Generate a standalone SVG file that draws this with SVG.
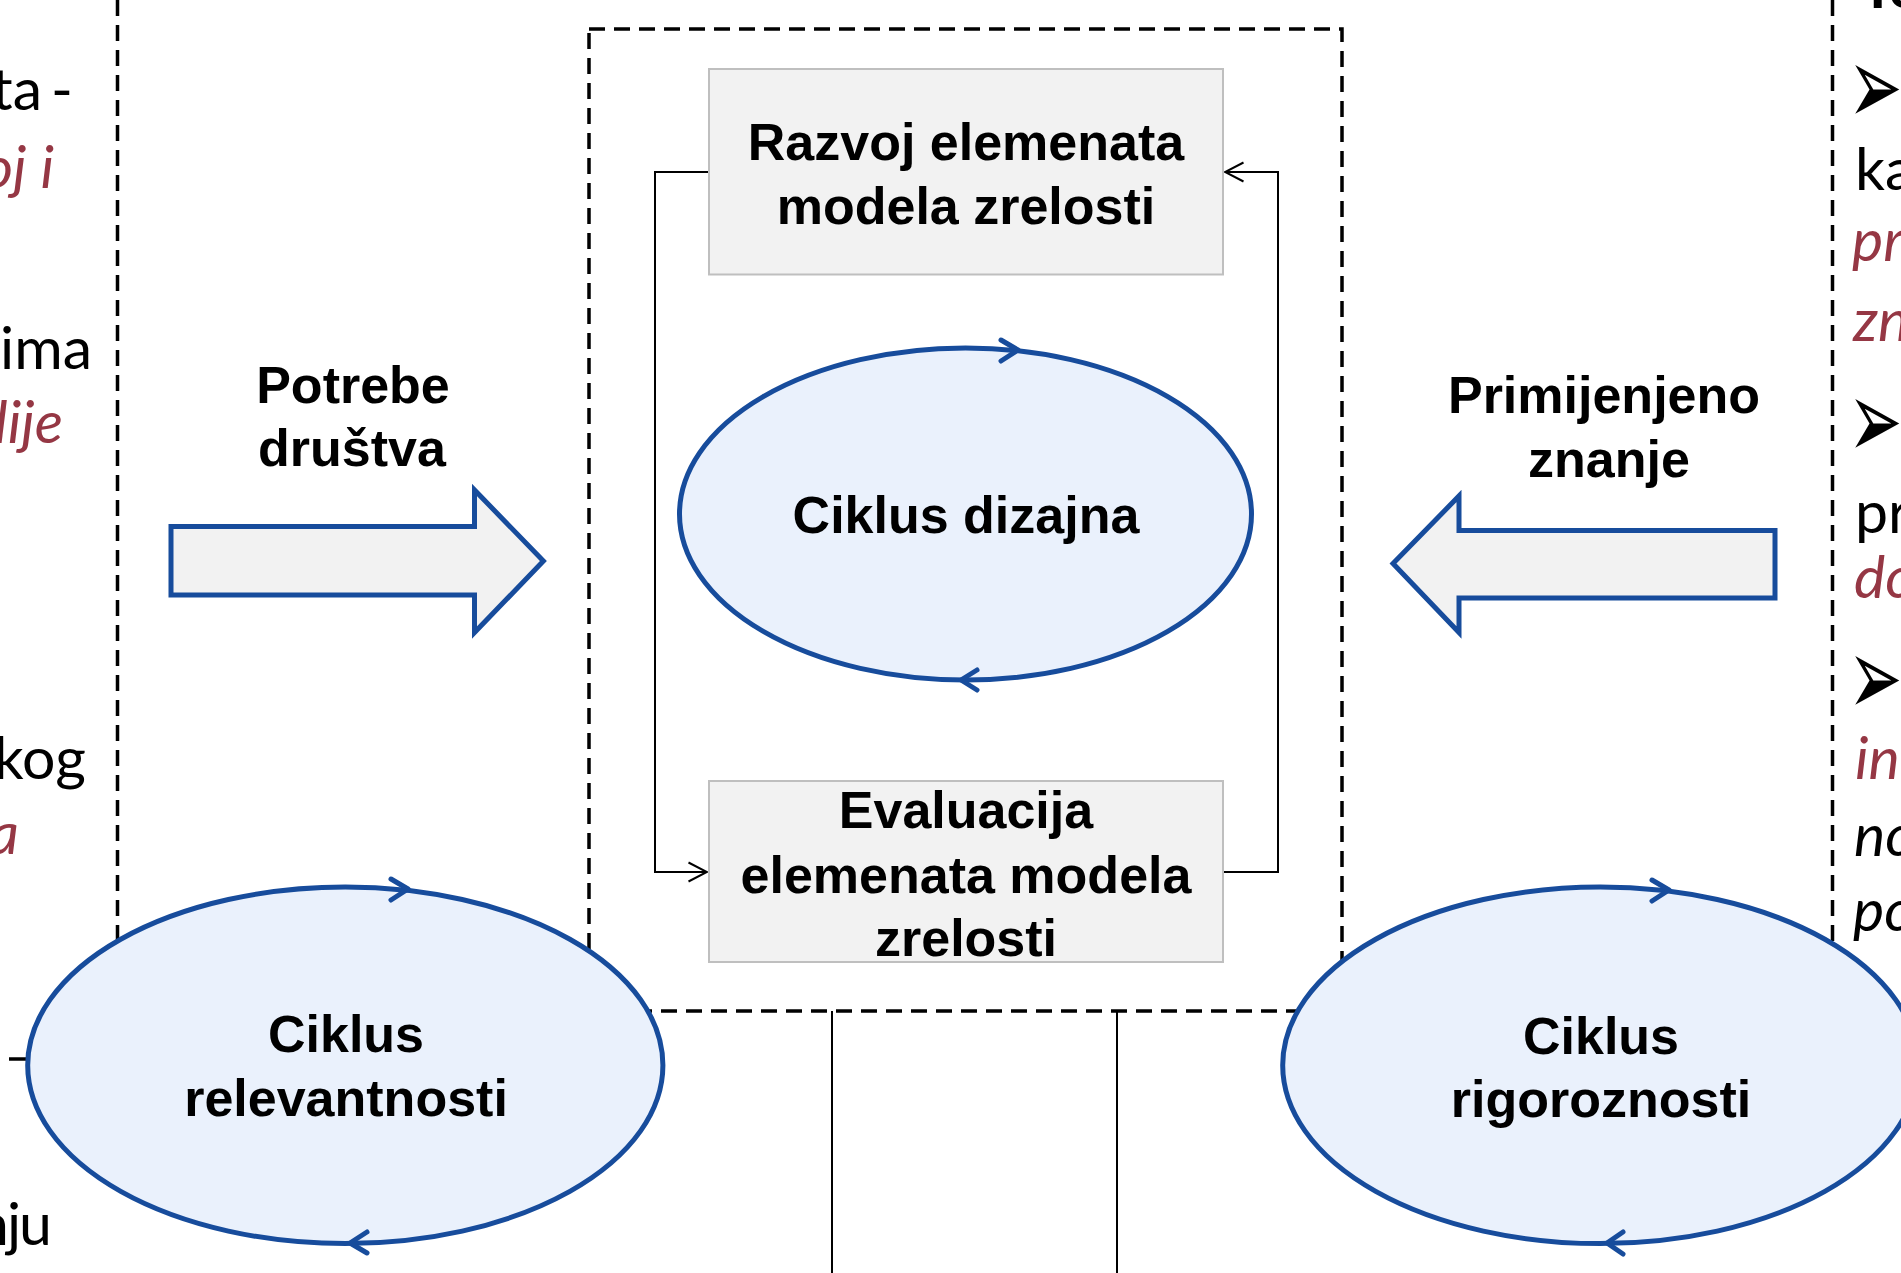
<svg xmlns="http://www.w3.org/2000/svg" width="1901" height="1273" viewBox="0 0 1901 1273">
<style>
.dash{fill:none;stroke:#000;stroke-width:3.5;stroke-dasharray:16 9}
.box{fill:#F2F2F2;stroke:#BFBFBF;stroke-width:2}
.cyc{fill:#EAF1FC;stroke:#174C9C;stroke-width:5}
.chev{fill:none;stroke:#174C9C;stroke-width:5;stroke-linecap:round;stroke-linejoin:round}
.barrow{fill:#F2F2F2;stroke:#174C9C;stroke-width:5;stroke-linejoin:miter}
.lbl{font-family:"Liberation Sans",Arial,sans-serif;font-weight:bold;font-size:52px;fill:#000;text-anchor:middle}
.side{font-family:Lato,"Liberation Sans",sans-serif;font-size:59px;fill:#000}
.red{fill:#953744;font-style:italic}
.it{font-style:italic}
.bul{font-family:"DejaVu Sans",sans-serif;font-size:65px;fill:#000}
.conn{fill:none;stroke:#000;stroke-width:2}
</style>
<defs>
<marker id="open" viewBox="-20 -11 22 22" refX="0" refY="0" markerWidth="22" markerHeight="22" markerUnits="userSpaceOnUse" orient="auto">
<path d="M-18.5,-9.5 L0,0 L-18.5,9.5" fill="none" stroke="#000" stroke-width="2"/>
</marker>
</defs>
<rect width="1901" height="1273" fill="#fff"/>

<g id="frames">
<line class="dash" x1="117.5" y1="0" x2="117.5" y2="960"/>
<line class="dash" x1="1832.5" y1="0" x2="1832.5" y2="960"/>
<rect class="dash" x="589" y="29" width="753" height="982"/>
<line x1="9" y1="1059" x2="26" y2="1059" stroke="#000" stroke-width="3.5"/>
</g>

<g id="left-text">
<text class="side" x="73" y="110" text-anchor="end" word-spacing="-6">ta -</text>
<text class="side red" x="54" y="188" text-anchor="end">oj i</text>
<text class="side" x="92" y="369" text-anchor="end">ima</text>
<text class="side red" x="63" y="443" text-anchor="end">lije</text>
<text class="side" x="86" y="779" text-anchor="end">kog</text>
<text class="side red" x="19" y="854" text-anchor="end">a</text>
<text class="side" x="50" y="1245" text-anchor="end" letter-spacing="-2">nju</text>
</g>

<g id="right-text">
<text class="side" x="1860" y="8" font-weight="bold">Te</text>
<text class="bul" transform="translate(1848,124) scale(1,1.7)">➢</text>
<text class="side" x="1855" y="190">ka</text>
<text class="side red" x="1852" y="261">pr</text>
<text class="side red" x="1853" y="341">zn</text>
<text class="bul" transform="translate(1848,458) scale(1,1.7)">➢</text>
<text class="side" x="1855" y="533">pr</text>
<text class="side red" x="1854" y="598">do</text>
<text class="bul" transform="translate(1848,715) scale(1,1.7)">➢</text>
<text class="side red" x="1855" y="779">in</text>
<text class="side it" x="1854" y="856">no</text>
<text class="side it" x="1853" y="931">po</text>
</g>

<g id="connectors">
<path class="conn" d="M709,172 H655 V872 H707" marker-end="url(#open)"/>
<path class="conn" d="M1223,872 H1278 V172 H1225" marker-end="url(#open)"/>
<line class="conn" x1="832" y1="1011" x2="832" y2="1273"/>
<line class="conn" x1="1117" y1="1011" x2="1117" y2="1273"/>
</g>

<g id="potrebe-drustva">
<path class="barrow" d="M171,526.5 H474.5 V490 L543.4,561 L474.5,632.6 V595 H171 Z"/>
<text class="lbl" x="353" y="403">Potrebe</text>
<text class="lbl" x="352" y="466">društva</text>
</g>

<g id="primijenjeno-znanje">
<path class="barrow" d="M1775,530.6 H1459 V496 L1393,563.5 L1459,632.6 V598 H1775 Z"/>
<text class="lbl" x="1604" y="413">Primijenjeno</text>
<text class="lbl" x="1609" y="477">znanje</text>
</g>

<g id="razvoj">
<rect class="box" x="709" y="69" width="514" height="205.5"/>
<text class="lbl" x="966" y="160">Razvoj elemenata</text>
<text class="lbl" x="966" y="224">modela zrelosti</text>
</g>

<g id="ciklus-dizajna">
<ellipse class="cyc" cx="965.5" cy="514" rx="286" ry="166"/>
<polyline class="chev" points="1001,340 1018,350 1001,361"/>
<polyline class="chev" points="977,670 961,680 977,690"/>
<text class="lbl" x="966" y="533">Ciklus dizajna</text>
</g>

<g id="evaluacija">
<rect class="box" x="709" y="781" width="514" height="181"/>
<text class="lbl" x="966" y="828">Evaluacija</text>
<text class="lbl" x="966" y="893">elemenata modela</text>
<text class="lbl" x="966" y="956">zrelosti</text>
</g>

<g id="ciklus-relevantnosti">
<ellipse class="cyc" cx="345.3" cy="1065.3" rx="317.6" ry="178.3"/>
<polyline class="chev" points="391,879 408,889 391,900"/>
<polyline class="chev" points="367,1232 350,1243 367,1253"/>
<text class="lbl" x="346" y="1052">Ciklus</text>
<text class="lbl" x="346" y="1116">relevantnosti</text>
</g>

<g id="ciklus-rigoroznosti">
<ellipse class="cyc" cx="1600.3" cy="1065.3" rx="317.6" ry="178.3"/>
<polyline class="chev" points="1652,880 1669,890 1652,901"/>
<polyline class="chev" points="1623,1232 1607,1243 1623,1254"/>
<text class="lbl" x="1601" y="1054">Ciklus</text>
<text class="lbl" x="1601" y="1117">rigoroznosti</text>
</g>
</svg>
